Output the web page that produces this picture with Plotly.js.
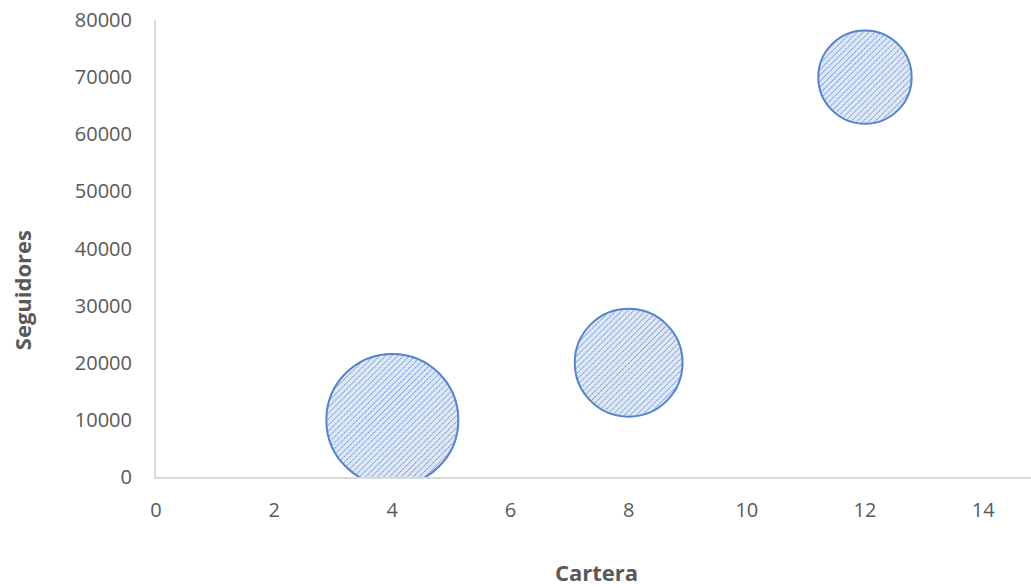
<!DOCTYPE html>
<html>
<head>
<meta charset="utf-8">
<script src="https://cdn.plot.ly/plotly-3.0.1.min.js"></script>
<style>html,body{margin:0;padding:0;background:#fff;}#chart{width:1031px;height:588px;}</style>
</head>
<body>
<div id="chart"></div>
<script>
const cartera = [4, 8, 12];
const seguidores = [10000, 20000, 70000];
const tamano = [3, 2, 1.5];
const xTicks = [0, 2, 4, 6, 8, 10, 12, 14];
const yTicks = [0, 10000, 20000, 30000, 40000, 50000, 60000, 70000, 80000];

const trace = {
  type: 'scatter',
  mode: 'markers',
  x: cartera,
  y: seguidores,
  cliponaxis: true,
  hoverinfo: 'x+y',
  marker: {
    size: tamano,
    sizemode: 'area',
    sizeref: 2 * 3 / (132 * 132),
    color: '#dde6f4',
    opacity: 1,
    line: {color: '#5683c9', width: 2}
  }
};

const font = {family: 'Open Sans, Lato, sans-serif', color: '#595959', size: 20};
const titleFont = {family: 'Open Sans, Lato, sans-serif', size: 22, color: '#595959', weight: 'bold'};

const layout = {
  width: 1031, height: 588,
  margin: {l: 156, r: 0, t: 20, b: 111},
  paper_bgcolor: '#ffffff', plot_bgcolor: '#ffffff',
  showlegend: false,
  font: font,
  xaxis: {
    range: [0, 14.81],
    tickvals: xTicks,
    ticktext: xTicks.map(String),
    showgrid: false, zeroline: false,
    showline: true, linecolor: '#d9d9d9', linewidth: 2,
    ticks: 'outside', ticklen: 14, tickcolor: 'rgba(0,0,0,0)',
    tickfont: font
  },
  yaxis: {
    range: [0, 80000],
    tickvals: yTicks,
    ticktext: yTicks.map(String),
    showgrid: false, zeroline: false,
    showline: true, linecolor: '#d9d9d9', linewidth: 2,
    ticks: 'outside', ticklen: 18, tickcolor: 'rgba(0,0,0,0)',
    tickfont: font
  },
  annotations: [
    {text: 'Cartera', xref: 'paper', yref: 'paper', x: 0.503, y: -0.2079,
     xanchor: 'center', yanchor: 'middle', showarrow: false, font: titleFont},
    {text: 'Seguidores', xref: 'paper', yref: 'paper', x: -0.153, y: 0.409,
     xanchor: 'center', yanchor: 'middle', textangle: -90, showarrow: false, font: titleFont}
  ]
};

Plotly.newPlot('chart', [trace], layout, {displayModeBar: false, staticPlot: true}).then(function (gd) {
  const NS = 'http://www.w3.org/2000/svg';
  const svg = gd.querySelector('svg.main-svg');
  let defs = svg.querySelector('defs');
  if (!defs) { defs = document.createElementNS(NS, 'defs'); svg.insertBefore(defs, svg.firstChild); }
  const pat = document.createElementNS(NS, 'pattern');
  pat.setAttribute('id', 'diagHatch');
  pat.setAttribute('patternUnits', 'userSpaceOnUse');
  pat.setAttribute('width', '4.2');
  pat.setAttribute('height', '4.2');
  pat.setAttribute('patternTransform', 'rotate(45)');
  const bg = document.createElementNS(NS, 'rect');
  bg.setAttribute('width', '4.2'); bg.setAttribute('height', '4.2');
  bg.setAttribute('fill', '#dee7f5');
  pat.appendChild(bg);
  const ln = document.createElementNS(NS, 'line');
  ln.setAttribute('x1', '0'); ln.setAttribute('y1', '0');
  ln.setAttribute('x2', '0'); ln.setAttribute('y2', '4.2');
  ln.setAttribute('stroke', '#5b8bd0');
  ln.setAttribute('stroke-width', '1.4');
  ln.setAttribute('stroke-dasharray', '1.6 0.6');
  pat.appendChild(ln);
  defs.appendChild(pat);
  gd.querySelectorAll('.scatterlayer .point').forEach(function (p) {
    p.style.fill = 'url(#diagHatch)';
    p.style.fillOpacity = 1;
  });
});
</script>
</body>
</html>
